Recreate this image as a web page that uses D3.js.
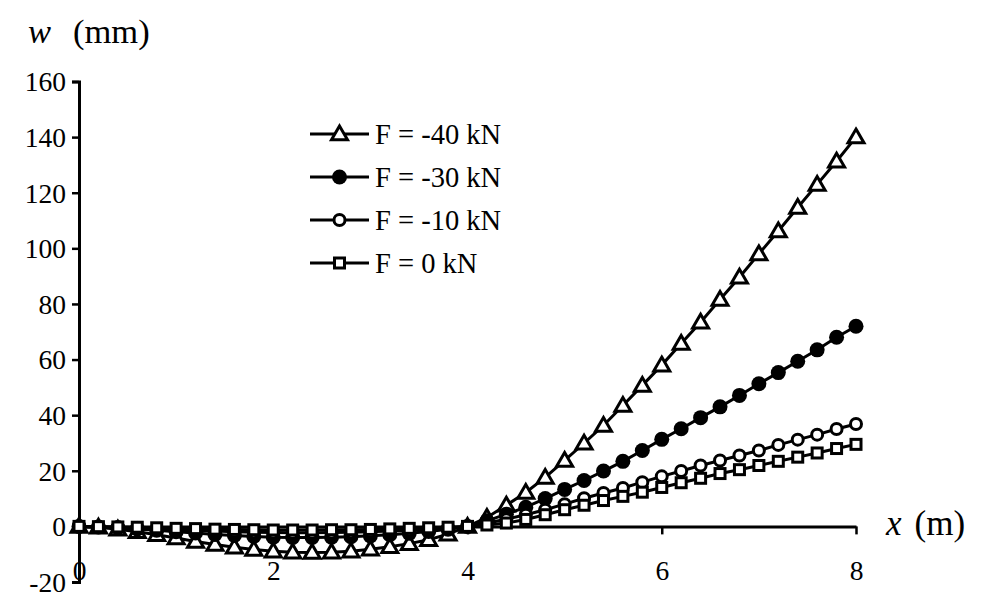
<!DOCTYPE html>
<html>
<head>
<meta charset="utf-8">
<script src="https://cdn.jsdelivr.net/npm/d3@7"></script>
<style>
  html, body { margin: 0; padding: 0; background: #fff; }
  svg text { font-family: "Liberation Serif", "Times New Roman", serif; fill: #000; }
</style>
</head>
<body>
<svg id="chart" width="987" height="599"></svg>
<script>
// ---- data ----
const xValues = d3.range(41).map(i => +(i * 0.2).toFixed(1)); // 0, 0.2, ..., 8
const seriesNames = ["F = -40 kN", "F = -30 kN", "F = -10 kN", "F = 0 kN"];
const wF40 = [0, -0.3, -1.0, -1.9, -3.0, -4.2, -5.4, -6.5, -7.5, -8.3, -8.9, -9.3, -9.4, -9.3, -8.9, -8.2, -7.3, -6.2, -4.8, -2.8, 0,
  3.2, 7.6, 12.2, 17.6, 23.7, 29.9, 36.3, 43.5, 50.7, 58.0, 65.8, 73.4, 81.6, 89.6, 98.0, 106.2, 114.7, 123.0, 131.3, 140.0];
const wF30 = [0, -0.2, -0.5, -0.9, -1.4, -1.9, -2.4, -2.9, -3.3, -3.6, -3.9, -4.0, -4.0, -3.9, -3.7, -3.4, -3.0, -2.5, -1.8, -1.0, 0,
  2.0, 4.4, 6.9, 10.0, 13.3, 16.5, 19.9, 23.4, 27.3, 31.3, 35.1, 39.1, 43.0, 47.1, 51.3, 55.3, 59.4, 63.5, 68.0, 72.0];
const wF10 = [0, -0.1, -0.3, -0.6, -0.9, -1.2, -1.5, -1.7, -1.9, -2.1, -2.2, -2.3, -2.3, -2.2, -2.1, -1.9, -1.7, -1.4, -1.0, -0.6, 0,
  1.2, 2.6, 4.2, 6.0, 8.0, 10.1, 12.0, 13.8, 15.9, 18.0, 19.9, 21.9, 23.7, 25.5, 27.3, 29.3, 31.2, 33.0, 35.0, 36.8];
const wF0 = [0, -0.1, -0.2, -0.3, -0.5, -0.7, -0.8, -1.0, -1.1, -1.2, -1.3, -1.3, -1.3, -1.2, -1.2, -1.1, -0.9, -0.7, -0.5, -0.3, 0,
  0.5, 1.2, 2.5, 4.2, 6.0, 7.6, 9.3, 10.8, 12.3, 14.0, 15.7, 17.3, 19.0, 20.4, 21.9, 23.4, 24.9, 26.4, 28.0, 29.5];
const markerTypes = ["triangle", "filledCircle", "openCircle", "square"];
const xTicks = [0, 2, 4, 6, 8];
const yTicks = [-20, 0, 20, 40, 60, 80, 100, 120, 140, 160];

const seriesValues = [wF40, wF30, wF10, wF0];

// ---- layout ----
const svg = d3.select("#chart");
const x = d3.scaleLinear().domain([0, 8]).range([79, 856]);
const y = d3.scaleLinear().domain([-20, 160]).range([582, 81.5]);
const SW = 3;

// y axis
const yAxis = d3.axisLeft(y).tickValues(yTicks).tickSize(7).tickPadding(6).tickFormat(d3.format("d"));
const gy = svg.append("g").attr("transform", `translate(${x(0)},0)`).call(yAxis);
gy.select(".domain").attr("stroke", "#000").attr("stroke-width", SW);
gy.selectAll(".tick line").attr("stroke", "#000").attr("stroke-width", 2.5);
gy.selectAll(".tick text").attr("font-size", 27.5).attr("dy", "0.34em")
  .attr("font-family", "Liberation Serif, serif").attr("fill", "#000");
gy.selectAll(".tick text").text(d => d < 0 ? "-" + Math.abs(d) : d);

// x axis at y=0
const xAxis = d3.axisBottom(x).tickValues(xTicks).tickSize(8).tickSizeOuter(0).tickPadding(0).tickFormat(d3.format("d"));
const gx = svg.append("g").attr("transform", `translate(0,${y(0)})`).call(xAxis);
gx.select(".domain").attr("stroke", "#000").attr("stroke-width", SW);
gx.selectAll(".tick line").attr("stroke", "#000").attr("stroke-width", 2.5);
gx.selectAll(".tick text").attr("font-size", 27.5).attr("y", 54).attr("dy", 0)
  .attr("font-family", "Liberation Serif, serif").attr("fill", "#000");

// axis titles
const yt = svg.append("text").attr("x", 28).attr("y", 43).attr("font-size", 34.5);
yt.append("tspan").attr("font-style", "italic").text("w");
yt.append("tspan").attr("dx", 22).text("(mm)");
const xt = svg.append("text").attr("x", 886).attr("y", 535).attr("font-size", 35);
xt.append("tspan").attr("font-style", "italic").text("x");
xt.append("tspan").attr("dx", 13).text("(m)");

// marker drawing
function drawMarker(g, type, cx, cy) {
  if (type === "triangle") {
    const s = 8;
    g.append("path")
      .attr("d", `M${cx},${cy - s} L${cx + s},${cy + s * 0.72} L${cx - s},${cy + s * 0.72} Z`)
      .attr("fill", "#fff").attr("stroke", "#000").attr("stroke-width", SW).attr("stroke-linejoin", "miter");
  } else if (type === "filledCircle") {
    g.append("circle").attr("cx", cx).attr("cy", cy).attr("r", 7.5).attr("fill", "#000");
  } else if (type === "openCircle") {
    g.append("circle").attr("cx", cx).attr("cy", cy).attr("r", 5.5)
      .attr("fill", "#fff").attr("stroke", "#000").attr("stroke-width", SW);
  } else {
    g.append("rect").attr("x", cx - 5).attr("y", cy - 5).attr("width", 10).attr("height", 10)
      .attr("fill", "#fff").attr("stroke", "#000").attr("stroke-width", SW);
  }
}

const line = d3.line().x(d => x(d[0])).y(d => y(d[1]));

seriesValues.forEach((vals, si) => {
  const pts = xValues.map((xv, i) => [xv, vals[i]]);
  const g = svg.append("g");
  g.append("path").attr("d", line(pts)).attr("fill", "none").attr("stroke", "#000").attr("stroke-width", SW);
  pts.forEach(p => drawMarker(g, markerTypes[si], x(p[0]), y(p[1])));
});

// legend
const legendRows = [134, 177, 220, 263];
seriesNames.forEach((name, i) => {
  const g = svg.append("g");
  const ly = legendRows[i];
  g.append("line").attr("x1", 310).attr("x2", 369).attr("y1", ly).attr("y2", ly)
    .attr("stroke", "#000").attr("stroke-width", SW);
  drawMarker(g, markerTypes[i], 339.5, ly);
  g.append("text").attr("x", 375).attr("y", ly).attr("dy", "0.35em").attr("font-size", 28.5).text(name);
});
</script>
</body>
</html>
